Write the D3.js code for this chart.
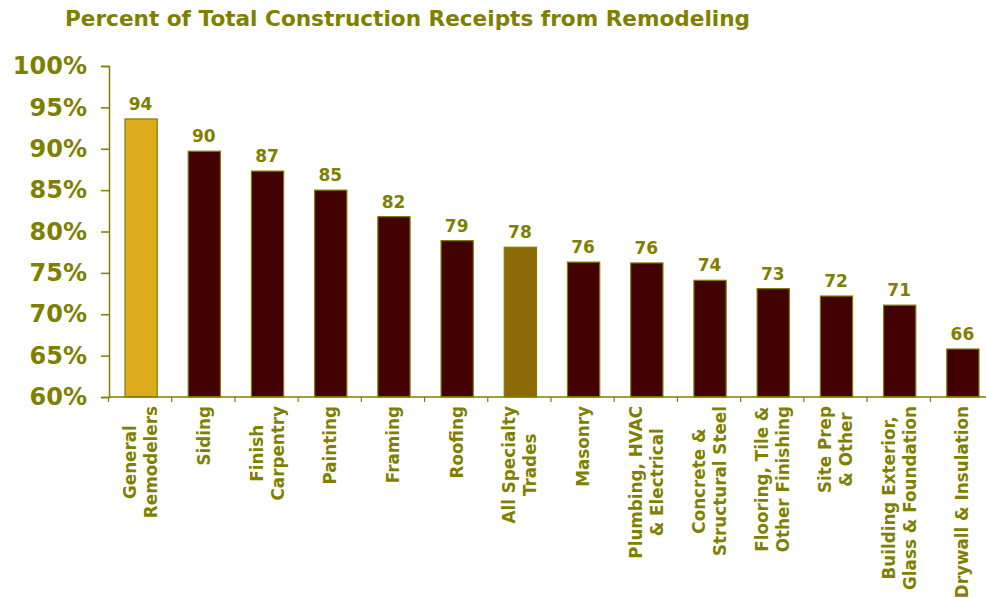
<!DOCTYPE html>
<html>
<head>
<meta charset="utf-8">
<script src="https://cdn.jsdelivr.net/npm/d3@7"></script>
<style>
  html, body { margin: 0; padding: 0; background: #fff; }
  svg { display: block; font-family: 'DejaVu Sans', Verdana, sans-serif; }
</style>
</head>
<body>
<div id="chart"></div>
<script>
const title = 'Percent of Total Construction Receipts from Remodeling'

const categories = [
  'General\nRemodelers',
  'Siding',
  'Finish\nCarpentry',
  'Painting',
  'Framing',
  'Roofing',
  'All Specialty\nTrades',
  'Masonry',
  'Plumbing, HVAC\n& Electrical',
  'Concrete &\nStructural Steel',
  'Flooring, Tile &\nOther Finishing',
  'Site Prep\n& Other',
  'Building Exterior,\nGlass & Foundation',
  'Drywall & Insulation'
]
const values = [93.6, 89.7, 87.3, 85.0, 81.8, 78.9, 78.1, 76.3, 76.2, 74.1, 73.1, 72.2, 71.1, 65.8]
const highlight = { 'General\nRemodelers': '#deab1c', 'All Specialty\nTrades': '#8c6a08' }
const yTicks = [60, 65, 70, 75, 80, 85, 90, 95, 100]

const width = 986
const height = 598
const olive = '#7f7f00'
const barColor = '#430000'

const svg = d3.select('#chart')
  .append('svg')
  .attr('width', width)
  .attr('height', height)

const x = d3.scaleBand()
  .domain(categories)
  .range([109, 994])
  .paddingInner(0.49)
  .paddingOuter(0.245)

const y = d3.scaleLinear()
  .domain([60, 100])
  .range([397, 66])

// title
svg.append('text')
  .attr('x', 65)
  .attr('y', 26)
  .attr('fill', olive)
  .attr('font-size', 21.6)
  .attr('font-weight', 'bold')
  .text(title)

// y axis
const yAxis = svg.append('g')
  .attr('transform', 'translate(109,0)')
  .call(d3.axisLeft(y).tickValues(yTicks).tickFormat(d => d + '%').tickSize(8).tickPadding(14))
yAxis.select('.domain').attr('stroke', olive).attr('stroke-width', 1.5)
yAxis.selectAll('.tick line').attr('stroke', olive).attr('stroke-width', 1.5)
yAxis.selectAll('.tick text')
  .attr('fill', olive)
  .attr('font-size', 24)
  .attr('font-weight', 'bold')
  .attr('font-family', "'DejaVu Sans', Verdana, sans-serif")

// bars
svg.append('g')
  .selectAll('rect')
  .data(categories)
  .join('rect')
  .attr('x', d => x(d) + 0.5)
  .attr('y', (d, i) => y(values[i]))
  .attr('width', x.bandwidth())
  .attr('height', (d, i) => y(60) - y(values[i]))
  .attr('fill', d => highlight[d] || barColor)
  .attr('stroke', olive)
  .attr('stroke-width', 1.2)

// value labels
svg.append('g')
  .selectAll('text')
  .data(categories)
  .join('text')
  .attr('x', d => x(d) + x.bandwidth() / 2)
  .attr('y', (d, i) => y(values[i]) - 9)
  .attr('text-anchor', 'middle')
  .attr('fill', olive)
  .attr('font-size', 17)
  .attr('font-weight', 'bold')
  .text((d, i) => d3.format('.0f')(values[i]))

// x axis line + ticks at band edges
svg.append('line')
  .attr('x1', 109).attr('x2', width)
  .attr('y1', y(60)).attr('y2', y(60))
  .attr('stroke', olive).attr('stroke-width', 1.5)
svg.append('g')
  .selectAll('line')
  .data(categories)
  .join('line')
  .attr('x1', d => x(d) - x.bandwidth() * 0.49 / 0.51 / 2 - 0.5)
  .attr('x2', d => x(d) - x.bandwidth() * 0.49 / 0.51 / 2 - 0.5)
  .attr('y1', y(60))
  .attr('y2', y(60) + 5)
  .attr('stroke', olive).attr('stroke-width', 1.2)

// category labels, rotated, lines centred, block right-aligned at top
const labelTop = 406
const lineH = 21
const lab = svg.append('g')
categories.forEach(c => {
  const lines = c.split('\n')
  const cx = x(c) + x.bandwidth() / 2
  const g = lab.append('g')
  const texts = lines.map(l => g.append('text')
    .attr('fill', olive)
    .attr('font-size', 16.8)
    .attr('font-weight', 'bold')
    .attr('text-anchor', 'middle')
    .text(l))
  const maxW = d3.max(texts, t => t.node().getComputedTextLength())
  const n = lines.length
  texts.forEach((t, i) => {
    const off = (i - (n - 1) / 2) * lineH
    t.attr('transform', `translate(${cx + off + 6},${labelTop + maxW / 2}) rotate(-90)`)
  })
})
</script>
</body>
</html>
